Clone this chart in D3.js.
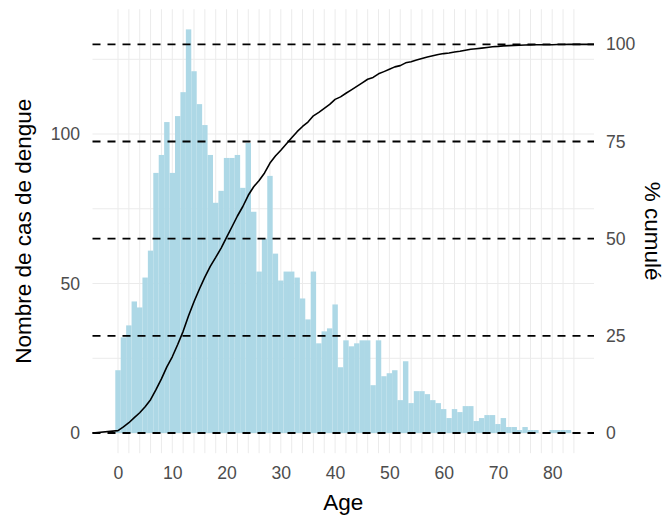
<!DOCTYPE html>
<html>
<head>
<meta charset="utf-8">
<script src="https://cdn.jsdelivr.net/npm/d3@7"></script>
<style>
  html, body { margin: 0; padding: 0; background: #ffffff; }
  svg { display: block; }
  text { font-family: "Liberation Sans", Arial, Helvetica, sans-serif; }
</style>
</head>
<body>
<svg id="chart" width="671" height="520"></svg>
<script>
// ---- Data ----
const ages = [0,1,2,3,4,5,6,7,8,9,10,11,12,13,14,15,16,17,18,19,20,
  21,22,23,24,25,26,27,28,29,30,31,32,33,34,35,36,37,38,39,40,
  41,42,43,44,45,46,47,48,49,50,51,52,53,54,55,56,57,58,59,60,
  61,62,63,64,65,66,67,68,69,70,71,72,73,74,75,76,77,78,79,80,81,82,83];
const cases = [21,32,36,44,42,52,61,87,93,104,87,106,114,135,121,110,103,93,77,81,92,
  92,93,82,97,74,54,65,86,60,51,54,54,52,45,38,54,30,34,35,43,
  22,31,29,30,31,31,16,31,19,20,21,11,24,10,14,14,13,11,10,8,
  5,8,7,9,9,4,5,6,6,3,5,2,2,1,2,1,1,0,0,1,1,1,1];
const xTicks = [0,10,20,30,40,50,60,70,80];
const yTicks = [0,50,100];
const pctTicks = [0,25,50,75,100];
const refPct = [0,25,50,75,100];
const countAt100 = 130;   // count value matching 100 % on the secondary axis

// ---- Scales ----
const svg = d3.select("#chart");
const x = d3.scaleLinear().domain([-4.7, 87.7]).range([92.5, 594]);
const y = d3.scaleLinear().domain([-6.75, 141.75]).range([453.2, 9.2]);
const yPct = d3.scaleLinear().domain([0, 100]).range([y(0), y(countAt100)]);

const [px0, px1] = x.range();
const [py0, py1] = y.range();

// ---- Grid ----
const grid = svg.append("g");
const vGrid = [];
for (let a = 0; a <= 84; a += 2) vGrid.push(a);
grid.selectAll("line.v").data(vGrid).join("line")
  .attr("x1", d => x(d)).attr("x2", d => x(d))
  .attr("y1", py1).attr("y2", py0)
  .attr("stroke", "#ebebeb").attr("stroke-width", 1);
grid.selectAll("line.h").data([0,25,50,75,100,125]).join("line")
  .attr("x1", px0).attr("x2", px1)
  .attr("y1", d => y(d)).attr("y2", d => y(d))
  .attr("stroke", "#ebebeb").attr("stroke-width", 1);

// ---- Bars ----
svg.append("g").selectAll("rect").data(ages).join("rect")
  .attr("x", (d) => x(d - 0.5))
  .attr("width", (d) => x(d + 0.5) - x(d - 0.5))
  .attr("y", (d, i) => y(cases[i]))
  .attr("height", (d, i) => y(0) - y(cases[i]))
  .attr("fill", "#add8e6");

// ---- Cumulative % line ----
const total = d3.sum(cases);
const cum = d3.cumsum(cases);
const linePts = [[x.domain()[0], 0]]
  .concat(ages.map((a, i) => [a, cum[i] / total * 100]))
  .concat([[x.domain()[1], 100]]);
svg.append("path")
  .datum(linePts)
  .attr("d", d3.line().x(d => x(d[0])).y(d => yPct(d[1])))
  .attr("fill", "none").attr("stroke", "#000").attr("stroke-width", 1.6)
  .attr("stroke-linejoin", "round");

// ---- Dashed reference lines ----
svg.append("g").selectAll("line").data(refPct).join("line")
  .attr("x1", px0).attr("x2", px1)
  .attr("y1", d => yPct(d)).attr("y2", d => yPct(d))
  .attr("stroke", "#000").attr("stroke-width", 1.8)
  .attr("stroke-dasharray", "8,7");

// ---- Axes ----
const tickFont = "17.6px";
const gx = svg.append("g").attr("transform", `translate(0,${py0})`)
  .call(d3.axisBottom(x).tickValues(xTicks).tickSize(0).tickPadding(13));
const gy = svg.append("g").attr("transform", `translate(${px0},0)`)
  .call(d3.axisLeft(y).tickValues(yTicks).tickSize(0).tickPadding(12.5));
const gr = svg.append("g").attr("transform", `translate(${px1},0)`)
  .call(d3.axisRight(yPct).tickValues(pctTicks).tickSize(0).tickPadding(12));
[gx, gy, gr].forEach(g => {
  g.select(".domain").remove();
  g.selectAll("text").attr("fill", "#4d4d4d").style("font-size", tickFont)
    .style("font-family", '"Liberation Sans", Arial, sans-serif');
});

// ---- Titles ----
svg.append("text").attr("x", (px0 + px1) / 2).attr("y", 510)
  .attr("text-anchor", "middle").style("font-size", "22.5px").attr("fill", "#000")
  .text("Age");
svg.append("text").attr("transform", `translate(31,${(py0 + py1) / 2}) rotate(-90)`)
  .attr("text-anchor", "middle").style("font-size", "22.5px").attr("fill", "#000")
  .text("Nombre de cas de dengue");
svg.append("text").attr("transform", `translate(645,${(py0 + py1) / 2}) rotate(90)`)
  .attr("text-anchor", "middle").style("font-size", "22.5px").attr("fill", "#000")
  .text("% cumulé");
</script>
</body>
</html>
